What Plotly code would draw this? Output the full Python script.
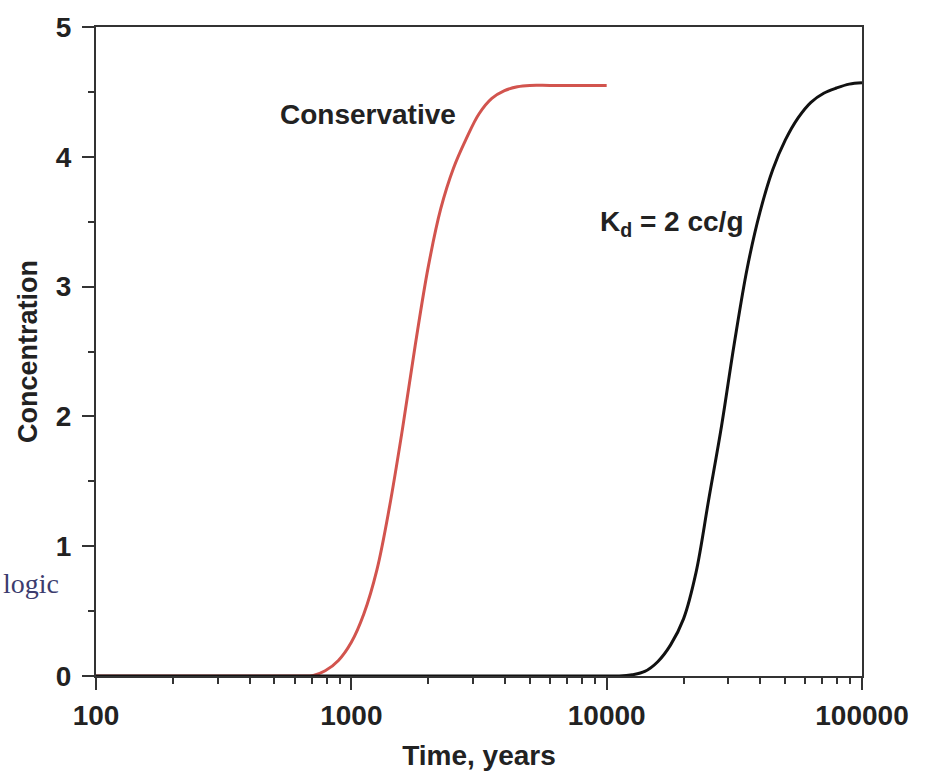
import plotly.graph_objects as go

# Conservative tracer breakthrough (red)
red_time = [100, 300, 500, 630, 710, 790, 890, 1000, 1120, 1260, 1410, 1585, 1780, 2000,
            2240, 2510, 2820, 3160, 3550, 3980, 4470, 5000, 6000, 8000, 10000]
red_conc = [0, 0, 0, 0.0, 0.005, 0.04, 0.12, 0.26, 0.48, 0.82, 1.30, 1.90, 2.55, 3.15,
            3.60, 3.91, 4.14, 4.33, 4.45, 4.51, 4.54, 4.55, 4.55, 4.55, 4.55]

# Sorbing tracer, Kd = 2 cc/g (black)
kd_time = [100, 1000, 10000, 11200, 12600, 14100, 15850, 17800, 20000, 22400, 25100, 28200,
           31600, 35500, 39800, 44700, 50100, 56200, 63100, 70800, 79400, 89100, 100000]
kd_conc = [0, 0, 0, 0.0, 0.01, 0.035, 0.11, 0.24, 0.44, 0.80, 1.36, 1.93,
           2.56, 3.14, 3.57, 3.90, 4.13, 4.30, 4.42, 4.49, 4.53, 4.56, 4.57]

x_ticks = [100, 1000, 10000, 100000]
x_ticktext = ["100", "1000", "10000", "100000"]
x_minor = [m * d for d in [100, 1000, 10000] for m in range(2, 10)]
y_ticks = [0, 1, 2, 3, 4, 5]
y_minor = [0.5, 1.5, 2.5, 3.5, 4.5]

axis_color = "#333333"
text_color = "#222222"
font_fam = "Liberation Sans, Arial, sans-serif"

fig = go.Figure()
fig.add_trace(go.Scatter(x=red_time, y=red_conc, mode="lines",
                         line=dict(color="#d2544e", width=3, shape="spline", smoothing=1.0),
                         showlegend=False))
fig.add_trace(go.Scatter(x=kd_time, y=kd_conc, mode="lines",
                         line=dict(color="#111111", width=3, shape="spline", smoothing=1.0),
                         showlegend=False))

fig.update_layout(
    width=926, height=779,
    margin=dict(l=96, r=64, t=18, b=103),
    paper_bgcolor="white", plot_bgcolor="white",
    font=dict(family=font_fam, color=text_color),
    xaxis=dict(
        type="log", range=[2, 5],
        tickmode="array", tickvals=x_ticks, ticktext=x_ticktext,
        ticks="outside", ticklen=12, tickwidth=2, tickcolor=axis_color,
        minor=dict(tickmode="array", tickvals=x_minor, ticks="outside", ticklen=6,
                   tickwidth=2, tickcolor=axis_color, showgrid=False),
        showline=True, linecolor=axis_color, linewidth=2, mirror=True,
        showgrid=False, zeroline=False,
        tickfont=dict(size=28, weight="bold", color=text_color),
        ticklabelstandoff=1,
        title=dict(text="Time, years", font=dict(size=28, weight="bold", color=text_color),
                   standoff=16),
    ),
    yaxis=dict(
        range=[0, 5],
        tickmode="array", tickvals=y_ticks,
        ticks="outside", ticklen=12, tickwidth=2, tickcolor=axis_color,
        minor=dict(tickmode="array", tickvals=y_minor, ticks="outside", ticklen=6,
                   tickwidth=2, tickcolor=axis_color, showgrid=False),
        showline=True, linecolor=axis_color, linewidth=2, mirror=True,
        showgrid=False, zeroline=False,
        tickfont=dict(size=28, weight="bold", color=text_color),
        ticklabelstandoff=5,
        title=dict(text="Concentration", font=dict(size=27, weight="bold", color=text_color),
                   standoff=10),
    ),
)

fig.add_annotation(x=(368 - 96) / 766, y=(676 - 107) / 658, xref="paper", yref="paper",
                   text="Conservative", showarrow=False, xanchor="center", yanchor="middle",
                   font=dict(size=28, weight="bold", color=text_color))
fig.add_annotation(x=(598 - 96) / 766, y=(676 - 217) / 658, xref="paper", yref="paper",
                   text="K<sub>d</sub> = 2 cc/g", showarrow=False, xanchor="left", yanchor="middle",
                   font=dict(size=28, weight="bold", color=text_color))
fig.add_annotation(x=(1 - 96) / 766, y=(676 - 582) / 658, xref="paper", yref="paper",
                   text="logic", showarrow=False, xanchor="left", yanchor="middle",
                   font=dict(size=28, family="Liberation Serif, Times New Roman, serif",
                             color="#3c3c6e"))

fig.write_html("out.html")
